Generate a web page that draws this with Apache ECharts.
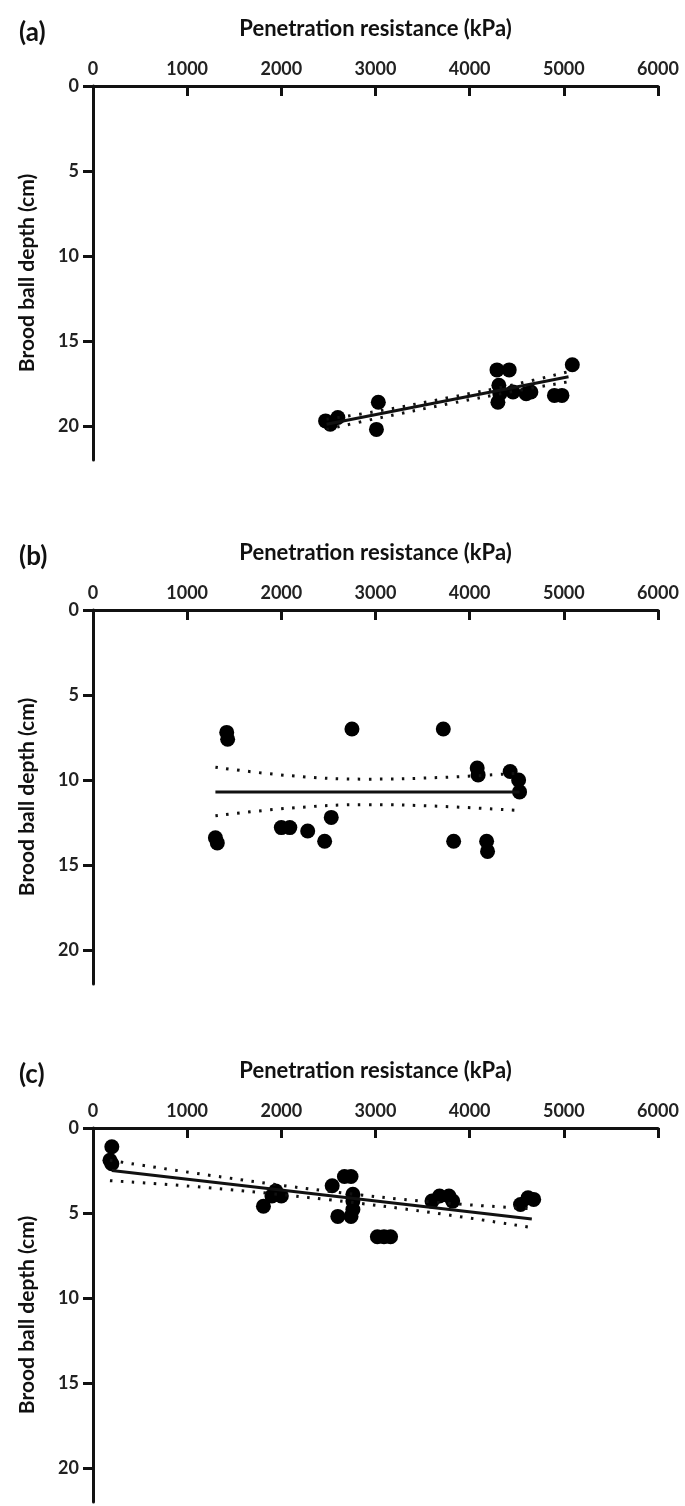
<!DOCTYPE html>
<html>
<head>
<meta charset="utf-8">
<script src="https://cdn.jsdelivr.net/npm/echarts@6/dist/echarts.min.js"></script>
<style>
html, body { margin: 0; padding: 0; background: #fff; }
#chart { width: 685px; height: 1506px; }
</style>
</head>
<body>
<div id="chart"></div>
<script>
var panelLabels = ['(a)', '(b)', '(c)'];
var xName = 'Penetration resistance (kPa)';
var yName = 'Brood ball depth (cm)';
var depthTicks = [0, 5, 10, 15, 20];

// panel (a)
var aResist = [2470, 2520, 2600, 3010, 3030, 4290, 4420, 4310, 4320, 4300, 4460, 4600, 4650, 4900, 4980, 5090];
var aDepth = [19.7, 19.9, 19.5, 20.2, 18.6, 16.7, 16.7, 17.6, 18.1, 18.6, 18.0, 18.1, 18.0, 18.2, 18.2, 16.4];
var aFitX = [2480, 5050];
var aFitY = [19.9, 17.1];
var aBandX = [2480, 3000, 3800, 4500, 5050];
var aBandUp = [19.6, 19.15, 18.31, 17.53, 16.8];
var aBandLow = [20.2, 19.57, 18.67, 17.93, 17.4];

// panel (b)
var bResist = [1300, 1320, 1420, 1430, 2000, 2090, 2280, 2460, 2530, 2750, 3720, 3830, 4080, 4090, 4180, 4190, 4430, 4520, 4530];
var bDepth = [13.4, 13.7, 7.2, 7.6, 12.8, 12.8, 13.0, 13.6, 12.2, 7.0, 7.0, 13.6, 9.3, 9.7, 13.6, 14.2, 9.5, 10.0, 10.7];
var bFitX = [1300, 4530];
var bFitY = [10.7, 10.7];
var bBandX = [1300, 2100, 2900, 3700, 4530];
var bBandUp = [9.25, 9.75, 9.95, 9.85, 9.6];
var bBandLow = [12.1, 11.65, 11.45, 11.55, 11.8];

// panel (c)
var cResist = [200, 180, 200, 1810, 1940, 2000, 1900, 2540, 2670, 2740, 2760, 2760, 2760, 2600, 2740, 3020, 3090, 3160, 3600, 3680, 3780, 3820, 4540, 4620, 4680];
var cDepth = [1.1, 1.9, 2.1, 4.6, 3.7, 4.0, 4.0, 3.4, 2.85, 2.85, 3.9, 4.3, 4.8, 5.2, 5.2, 6.4, 6.4, 6.4, 4.3, 4.0, 4.0, 4.3, 4.5, 4.1, 4.2];
var cFitX = [200, 4660];
var cFitY = [2.5, 5.35];
var cBandX = [180, 1200, 2500, 3600, 4650];
var cBandUp = [1.9, 2.75, 3.72, 4.35, 4.75];
var cBandLow = [3.1, 3.5, 4.22, 4.98, 5.85];

var panels = [
    {x: aResist, y: aDepth, fx: aFitX, fy: aFitY, bx: aBandX, up: aBandUp, low: aBandLow},
    {x: bResist, y: bDepth, fx: bFitX, fy: bFitY, bx: bBandX, up: bBandUp, low: bBandLow},
    {x: cResist, y: cDepth, fx: cFitX, fy: cFitY, bx: cBandX, up: cBandUp, low: cBandLow}
];
var panelTops = [86, 610, 1128];

function pairs(xs, ys) {
    return xs.map(function (v, i) { return [v, ys[i]]; });
}

var ink = '#111';
var font = 'Lato';

var chart = echarts.init(document.getElementById('chart'));
var grids = [], xAxes = [], yAxes = [], titles = [], series = [];

panels.forEach(function (p, i) {
    grids.push({left: 93, width: 565, top: panelTops[i], height: 374});
    titles.push({
        text: panelLabels[i],
        left: 19,
        top: panelTops[i] - 66,
        padding: 0,
        textStyle: {fontFamily: font, fontWeight: 'bold', fontSize: 26, color: ink}
    });
    xAxes.push({
        gridIndex: i,
        type: 'value',
        position: 'top',
        min: 0,
        max: 6000,
        interval: 1000,
        name: xName,
        nameLocation: 'middle',
        nameGap: 46,
        nameTextStyle: {fontFamily: font, fontWeight: 'bold', fontSize: 22, color: ink},
        axisLine: {show: true, onZero: false, lineStyle: {color: ink, width: 3}},
        axisTick: {show: true, inside: true, length: 10, lineStyle: {color: ink, width: 3}},
        axisLabel: {
            fontFamily: font, fontWeight: 'bold', fontSize: 18, color: '#222', margin: 8,
            formatter: function (v) { return String(v); }
        },
        splitLine: {show: false}
    });
    yAxes.push({
        gridIndex: i,
        type: 'value',
        inverse: true,
        min: 0,
        max: 22,
        interval: 5,
        name: yName,
        nameLocation: 'middle',
        nameGap: 55,
        nameRotate: 90,
        nameTextStyle: {fontFamily: font, fontWeight: 'bold', fontSize: 21, color: ink},
        axisLine: {show: true, onZero: false, lineStyle: {color: ink, width: 3}},
        axisTick: {show: true, length: 10, customValues: depthTicks, lineStyle: {color: ink, width: 3}},
        axisLabel: {
            fontFamily: font, fontWeight: 'bold', fontSize: 18, color: '#222', margin: 14,
            customValues: depthTicks
        },
        splitLine: {show: false}
    });
    series.push({
        type: 'line',
        xAxisIndex: i, yAxisIndex: i,
        data: pairs(p.bx, p.up),
        smooth: 0.4,
        symbol: 'none',
        lineStyle: {color: ink, width: 3, type: [2.5, 8.5]}
    });
    series.push({
        type: 'line',
        xAxisIndex: i, yAxisIndex: i,
        data: pairs(p.bx, p.low),
        smooth: 0.4,
        symbol: 'none',
        lineStyle: {color: ink, width: 3, type: [2.5, 8.5]}
    });
    series.push({
        type: 'line',
        xAxisIndex: i, yAxisIndex: i,
        data: pairs(p.fx, p.fy),
        symbol: 'none',
        lineStyle: {color: ink, width: 3}
    });
    series.push({
        type: 'scatter',
        xAxisIndex: i, yAxisIndex: i,
        data: pairs(p.x, p.y),
        symbolSize: 15,
        itemStyle: {color: '#000', opacity: 1}
    });
});

chart.setOption({
    animation: false,
    backgroundColor: '#fff',
    title: titles,
    grid: grids,
    xAxis: xAxes,
    yAxis: yAxes,
    series: series
});
</script>
</body>
</html>
